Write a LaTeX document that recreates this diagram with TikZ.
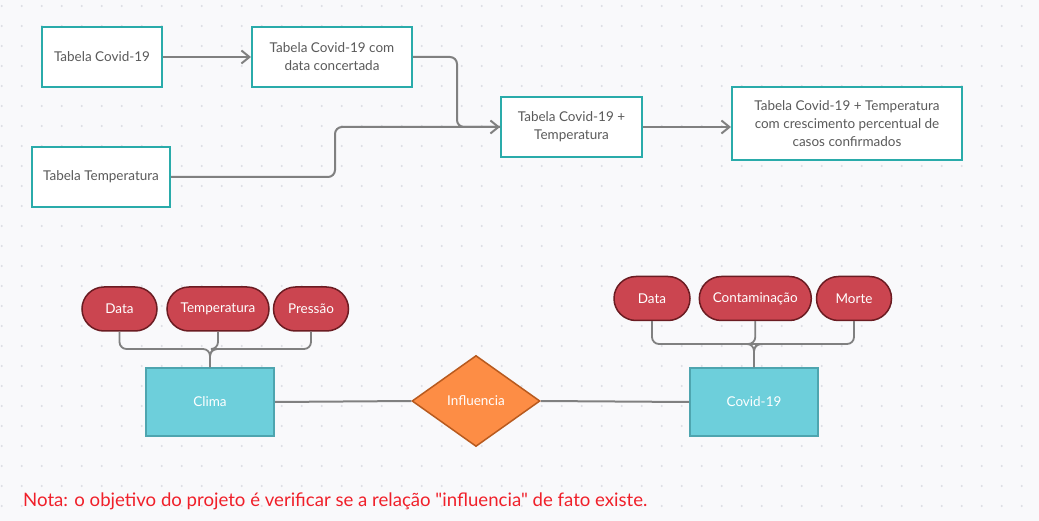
\documentclass[tikz,border=0pt]{standalone}
\usepackage{fontspec}
\setmainfont{Lato}
\newfontfamily\notefont{Lato}[Ligatures=TeXOff]
\usetikzlibrary{arrows.meta,shapes.geometric}
\definecolor{bgc}{HTML}{F9F9FB}
\definecolor{dotc}{HTML}{DCDDE3}
\definecolor{teal}{HTML}{2AABAA}
\definecolor{txtc}{HTML}{5A5A5A}
\definecolor{linec}{HTML}{808080}
\definecolor{ovalf}{HTML}{CB4550}
\definecolor{ovald}{HTML}{6B1C22}
\definecolor{entf}{HTML}{6DCFDB}
\definecolor{entd}{HTML}{4EA5AF}
\definecolor{diaf}{HTML}{FD8D45}
\definecolor{diad}{HTML}{B85A1E}
\definecolor{notec}{HTML}{F0202A}
\tikzset{
  tbox/.style={draw=teal, line width=2pt, fill=white, text=txtc, align=center,
    inner sep=0pt, font=\fontsize{13.5}{18}\selectfont},
  oval/.style={draw=ovald, line width=1.5pt, fill=ovalf, text=white, inner sep=0pt,
    minimum height=44pt, rounded corners=22pt, font=\fontsize{13.5}{16}\selectfont},
  ent/.style={draw=entd, line width=2pt, fill=entf, text=white, inner sep=0pt,
    minimum width=128pt, minimum height=68pt, font=\fontsize{13.5}{16}\selectfont},
  rel/.style={diamond, draw=diad, line width=1.5pt, fill=diaf, text=white, inner sep=0pt,
    minimum width=128pt, minimum height=91pt, aspect=1.4, font=\fontsize{13.5}{16}\selectfont},
  conn/.style={draw=linec, line width=2pt},
  arr/.style={conn, -{Straight Barb[length=8pt,width=13pt]}},
  tree/.style={draw=linec, line width=1.8pt, rounded corners=7pt},
}
\begin{document}
\begin{tikzpicture}[x=1pt,y=-1pt]
\fill[bgc] (0,0) rectangle (1039,521);
\useasboundingbox (0,0) rectangle (1039,521);
\foreach \i in {0,...,51}{
  \foreach \j in {0,...,25}{
    \fill[dotc] (1.7+20*\i, 6+20*\j) circle (1.1pt);
  }
}
% top flow
\node[tbox, minimum width=120pt, minimum height=60pt] (b1) at (102,57) {Tabela Covid-19};
\node[tbox, minimum width=160pt, minimum height=60pt] (b2) at (332,57) {Tabela Covid-19 com\\data concertada};
\node[tbox, minimum width=138pt, minimum height=60pt] (b3) at (101,177) {Tabela Temperatura};
\node[tbox, minimum width=141pt, minimum height=60pt] (b4) at (571.5,127) {Tabela Covid-19 +\\Temperatura};
\node[tbox, minimum width=230pt, minimum height=73pt] (b5) at (847,124) {Tabela Covid-19 + Temperatura\\com crescimento percentual de\\casos confirmados};
\coordinate (j1) at (457,127);
\coordinate (j2) at (335,127);
\draw[arr] (b1) -- (b2);
\draw[conn, rounded corners=7pt] (b2.east) -| (j1) -- (b4.west);
\draw[conn, rounded corners=7pt] (b3.east) -| (j2) -- (b4.west);
\draw[arr] (j1) -- (b4.west);
\draw[arr] (b4.east) -- (b4.east -| b5.west);
% bottom ER
\node[ent] (clima) at (210,402) {Clima};
\node[ent] (covid) at (754,402) {Covid-19};
\node[rel] (infl) at (476,401) {Influencia};
\node[oval, minimum width=75pt] (o1) at (119.5,309) {Data};
\node[oval, minimum width=102pt] (o2) at (218,309) {Temperatura};
\node[oval, minimum width=75pt] (o3) at (311,309) {Pressão};
\node[oval, minimum width=76pt] (o4) at (652,298.5) {Data};
\node[oval, minimum width=112pt] (o5) at (755.3,298.5) {Contaminação};
\node[oval, minimum width=75pt] (o6) at (854,298.5) {Morte};
\coordinate (t1) at (210,349);
\coordinate (t2) at (754,344);
\draw[tree] (o1.south) |- (t1) -- (clima.north);
\draw[tree] (o2.south) |- (t1) -- (clima.north);
\draw[tree] (o3.south) |- (t1) -- (clima.north);
\draw[tree] (o4.south) |- (t2) -- (covid.north);
\draw[tree] (o5.south) |- (t2) -- (covid.north);
\draw[tree] (o6.south) |- (t2) -- (covid.north);
\draw[conn] (clima.east) -- (infl.west);
\draw[conn] (infl.east) -- (covid.west);
\node[anchor=base west, text=notec, inner sep=0pt, font=\notefont\fontsize{18.6}{22}\selectfont] (note) at (23,506) {Nota: o objetivo do projeto é verificar se a relação "influencia" de fato existe.};
\end{tikzpicture}
\end{document}
